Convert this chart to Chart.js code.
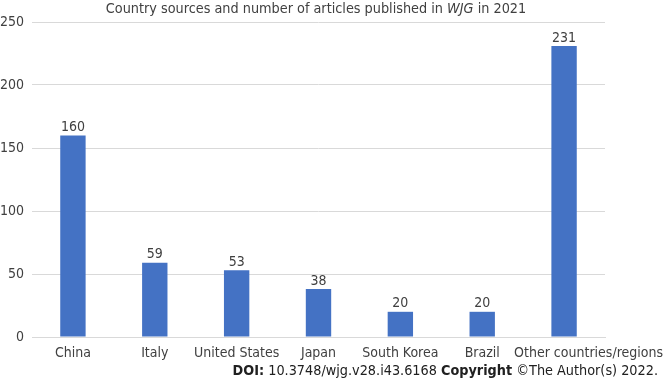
<!DOCTYPE html>
<html>
<head>
<meta charset="utf-8">
<script src="https://cdn.jsdelivr.net/npm/chart.js@4/dist/chart.umd.min.js"></script>
<style>
	html, body { margin: 0; padding: 0; background: #ffffff; }
	#wrap { position: relative; width: 668px; height: 383px; font-family: 'DejaVu Sans Condensed', 'DejaVu Sans', sans-serif; color: #404040; }
	#title { position: absolute; left: 0; width: 632px; top: 0px; text-align: center; font-size: 14.3px; }
	#footer { position: absolute; right: 10px; top: 362px; font-size: 14.3px; color: #202020; }
	canvas { position: absolute; left: 0; top: 0; }
</style>
</head>
<body>
<div id="wrap">
	<canvas id="chart" width="668" height="383"></canvas>
	<div id="title">Country sources and number of articles published in <i>WJG</i> in 2021</div>
	<div id="footer"><b>DOI:</b> 10.3748/wjg.v28.i43.6168 <b>Copyright</b> ©The Author(s) 2022.</div>
</div>
<script>
const categories = ['China', 'Italy', 'United States', 'Japan', 'South Korea', 'Brazil', 'Other countries/regions'];
const articles = [160, 59, 53, 38, 20, 20, 231];
const yTicks = [0, 50, 100, 150, 200, 250];

const font = "'DejaVu Sans Condensed', 'DejaVu Sans', sans-serif";

// value labels above each bar, category labels under the axis
// (the last, long label is pushed to the right edge like in the original so it does not hit "Brazil")
const barLabels = {
	id: 'barLabels',
	afterDatasetsDraw(chart) {
		const ctx = chart.ctx;
		const meta = chart.getDatasetMeta(0);
		const xScale = chart.scales.x;
		ctx.save();
		ctx.font = '14px ' + font;
		ctx.fillStyle = '#404040';
		ctx.textAlign = 'center';
		ctx.textBaseline = 'bottom';
		meta.data.forEach(function(bar, i) {
			ctx.fillText(String(articles[i]), bar.x, bar.y - 1);
		});
		ctx.textBaseline = 'middle';
		categories.forEach(function(label, i) {
			let x = xScale.getPixelForTick(i);
			const w = ctx.measureText(label).width;
			if(i === categories.length - 1) {
				x = chart.width - 5 - w / 2;
			}
			ctx.fillText(label, x, chart.chartArea.bottom + 16);
		});
		ctx.restore();
	}
};

new Chart(document.getElementById('chart').getContext('2d'), {
	type: 'bar',
	data: {
		labels: categories,
		datasets: [{
			data: articles,
			backgroundColor: '#4472c4',
			barPercentage: 0.31,
			categoryPercentage: 1
		}]
	},
	options: {
		responsive: false,
		animation: false,
		layout: { padding: { top: 22, right: 63, left: 0, bottom: 0 } },
		plugins: {
			legend: { display: false },
			tooltip: { enabled: false },
			title: { display: false }
		},
		scales: {
			x: {
				grid: { display: false, drawTicks: false },
				border: { display: true, color: '#d9d9d9' },
				ticks: { display: false },
				afterFit: (scale) => { scale.height = 46; }
			},
			y: {
				min: 0,
				max: 250,
				afterBuildTicks: (scale) => { scale.ticks = yTicks.map(v => ({ value: v })); },
				grid: { color: '#d9d9d9', drawTicks: false },
				border: { display: false },
				ticks: { color: '#404040', font: { family: font, size: 14 }, padding: 8 },
				afterFit: (scale) => { scale.width = 32; }
			}
		}
	},
	plugins: [barLabels]
});
</script>
</body>
</html>
